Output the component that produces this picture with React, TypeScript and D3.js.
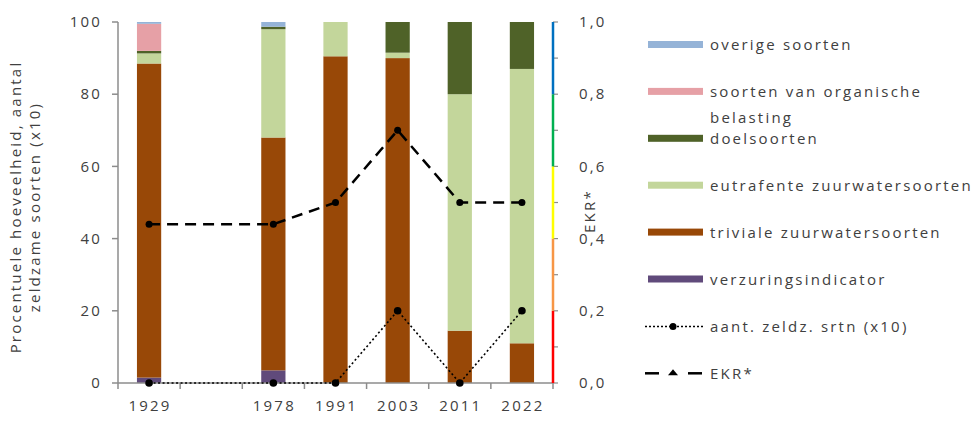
import React from "react";
import * as d3 from "d3";

const categories = ["1929", "", "1978", "1991", "2003", "2011", "2022"];
const verzuring = [1.5, 0, 3.5, 0, 0, 0, 0];
const triviale = [87, 0, 64.5, 90.5, 90, 14.5, 11];
const eutrafente = [2.8, 0, 30, 9.5, 1.5, 65.5, 76];
const doelsoorten = [0.7, 0, 0.7, 0, 8.5, 20, 13];
const organische = [7.5, 0, 0, 0, 0, 0, 0];
const overige = [0.5, 0, 1.3, 0, 0, 0, 0];
const zeldzaam = [0, null, 0, 0, 20, 0, 20];
const ekr = [0.44, null, 0.44, 0.5, 0.7, 0.5, 0.5];
const leftTicks = [0, 20, 40, 60, 80, 100];
const rightTicks = [0, 0.2, 0.4, 0.6, 0.8, 1.0];
const rightMinor = [0.1, 0.3, 0.5, 0.7, 0.9];
const ekrBands = [
  { from: 0, to: 0.2, color: "#ff0000" },
  { from: 0.2, to: 0.4, color: "#f79646" },
  { from: 0.4, to: 0.6, color: "#ffff00" },
  { from: 0.6, to: 0.8, color: "#00b050" },
  { from: 0.8, to: 1.0, color: "#0070c0" },
];

const seriesKeys = ["verzuring", "triviale", "eutrafente", "doelsoorten", "organische", "overige"];
const seriesColors: Record<string, string> = {
  verzuring: "#604a7b",
  triviale: "#984807",
  eutrafente: "#c3d69b",
  doelsoorten: "#4f6228",
  organische: "#e6a0a6",
  overige: "#95b3d7",
};
const seriesValues: Record<string, number[]> = {
  verzuring, triviale, eutrafente, doelsoorten, organische, overige,
};

const legendItems = [
  { label: ["overige soorten"], color: seriesColors.overige, kind: "rect" },
  { label: ["soorten van organische", "belasting"], color: seriesColors.organische, kind: "rect" },
  { label: ["doelsoorten"], color: seriesColors.doelsoorten, kind: "rect" },
  { label: ["eutrafente zuurwatersoorten"], color: seriesColors.eutrafente, kind: "rect" },
  { label: ["triviale zuurwatersoorten"], color: seriesColors.triviale, kind: "rect" },
  { label: ["verzuringsindicator"], color: seriesColors.verzuring, kind: "rect" },
  { label: ["aant. zeldz. srtn (x10)"], color: "#000", kind: "dotted" },
  { label: ["EKR*"], color: "#000", kind: "dashed" },
];

const FONT = "'Open Sans', sans-serif";

export default function App() {
  const W = 978, H = 422;
  const x0 = 118, x1 = 553, yTop = 22, yBot = 383;
  const keys = categories.map((c, i) => (c === "" ? "gap" + i : c));
  const x = d3.scaleBand<string>().domain(keys).range([x0, x1]).paddingInner(0.61).paddingOuter(0.305);
  const y = d3.scaleLinear().domain([0, 100]).range([yBot, yTop]);
  const y2 = d3.scaleLinear().domain([0, 1]).range([yBot, yTop]);

  const rows = keys.map((k, i) => {
    const r: any = { key: k };
    seriesKeys.forEach((s) => (r[s] = seriesValues[s][i]));
    return r;
  });
  const stacked = d3.stack<any>().keys(seriesKeys)(rows);
  const cx = (i: number) => (x(keys[i]) as number) + x.bandwidth() / 2;

  const zPts = zeldzaam.map((v, i) => ({ v, i })).filter((d) => d.v !== null) as { v: number; i: number }[];
  const ePts = ekr.map((v, i) => ({ v, i })).filter((d) => d.v !== null) as { v: number; i: number }[];
  const zLine = d3.line<{ v: number; i: number }>().x((d) => cx(d.i)).y((d) => y(d.v))(zPts) || "";
  const eLine = d3.line<{ v: number; i: number }>().x((d) => cx(d.i)).y((d) => y2(d.v))(ePts) || "";

  const axisColor = "#8c8c8c";
  const textColor = "#404040";
  const fs = 15;
  const ls = 2.2;

  return (
    <svg width={W} height={H} style={{ display: "block", position: "absolute", left: 0, top: 0 }} fontFamily={FONT}>
      <rect width={W} height={H} fill="#fff" />
      {/* bars */}
      {stacked.map((layer) => (
        <g key={layer.key} fill={seriesColors[layer.key]}>
          {layer.map((d, i) =>
            d[1] - d[0] > 0 ? (
              <rect key={i} x={x(keys[i])} width={x.bandwidth()} y={y(d[1])} height={y(d[0]) - y(d[1])} />
            ) : null
          )}
        </g>
      ))}
      <g fontSize={fs} letterSpacing={ls} fill={textColor}>
        {/* left axis */}
        <line x1={x0} x2={x0} y1={yTop} y2={yBot} stroke={axisColor} strokeWidth={1.5} />
        {leftTicks.map((t) => (
          <g key={t}>
            <line x1={x0 - 6} x2={x0} y1={y(t)} y2={y(t)} stroke={axisColor} strokeWidth={1.5} />
            <text x={102} y={y(t)} dy="0.35em" textAnchor="end">{t}</text>
          </g>
        ))}
        {/* x axis */}
        <line x1={x0} x2={x1} y1={yBot} y2={yBot} stroke={axisColor} strokeWidth={1.5} />
        {keys.map((k, i) => (
          <line key={k} x1={x0 + i * x.step()} x2={x0 + i * x.step()} y1={yBot} y2={yBot + 6} stroke={axisColor} strokeWidth={1.5} />
        ))}
        <line x1={x1} x2={x1} y1={yBot} y2={yBot + 6} stroke={axisColor} strokeWidth={1.5} />
        {categories.map((c, i) =>
          c ? (
            <text key={c} x={cx(i) + 1} y={411} textAnchor="middle">{c}</text>
          ) : null
        )}
        {/* right axis */}
        {rightTicks.concat(rightMinor).map((t) => (
          <line key={"rt" + t} x1={x1} x2={x1 + 5} y1={y2(t)} y2={y2(t)} stroke={axisColor} strokeWidth={1.2} />
        ))}
        {ekrBands.map((b) => (
          <line key={b.color} x1={x1} x2={x1} y1={y2(b.from)} y2={y2(b.to)} stroke={b.color} strokeWidth={2.5} />
        ))}
        {rightTicks.map((t) => (
          <text key={"rl" + t} x={579} y={y2(t)} dy="0.35em">
            {d3.format(".1f")(t).replace(".", ",")}
          </text>
        ))}
        <text transform={`translate(595,211) rotate(-90)`} textAnchor="middle">EKR*</text>
        <text transform={`translate(21,207) rotate(-90)`} textAnchor="middle">
          Procentuele hoeveelheid, aantal
        </text>
        <text transform={`translate(40,207) rotate(-90)`} textAnchor="middle">
          zeldzame soorten (x10)
        </text>
        {/* legend */}
        {legendItems.map((it, i) => {
          const cy = 45 + i * 46.9;
          return (
            <g key={i}>
              {it.kind === "rect" && <rect x={648} y={cy - 4} width={55} height={7} fill={it.color} />}
              {it.kind === "dotted" && (
                <g>
                  <line x1={645} x2={703} y1={cy} y2={cy} stroke="#000" strokeWidth={1.5} strokeDasharray="2,2" />
                  <circle cx={673} cy={cy} r={3.5} fill="#000" />
                </g>
              )}
              {it.kind === "dashed" && (
                <g>
                  <line x1={645} x2={659} y1={cy} y2={cy} stroke="#000" strokeWidth={2.5} />
                  <line x1={688} x2={702} y1={cy} y2={cy} stroke="#000" strokeWidth={2.5} />
                  <path d={`M${668},${cy + 2} L${673},${cy - 4} L${678},${cy + 2} Z`} fill="#000" />
                </g>
              )}
              {it.label.map((l, j) => (
                <text key={j} x={710} y={cy + j * 26} dy="0.35em">{l}</text>
              ))}
            </g>
          );
        })}
      </g>
      {/* lines */}
      <path d={zLine} fill="none" stroke="#000" strokeWidth={1.6} strokeDasharray="2,2.5" />
      {zPts.map((d) => (
        <circle key={"z" + d.i} cx={cx(d.i)} cy={y(d.v)} r={3.8} fill="#000" />
      ))}
      <path d={eLine} fill="none" stroke="#000" strokeWidth={2.5} strokeDasharray="11,7" />
      {ePts.map((d) => (
        <circle key={"e" + d.i} cx={cx(d.i)} cy={y2(d.v)} r={3.5} fill="#000" />
      ))}
    </svg>
  );
}
